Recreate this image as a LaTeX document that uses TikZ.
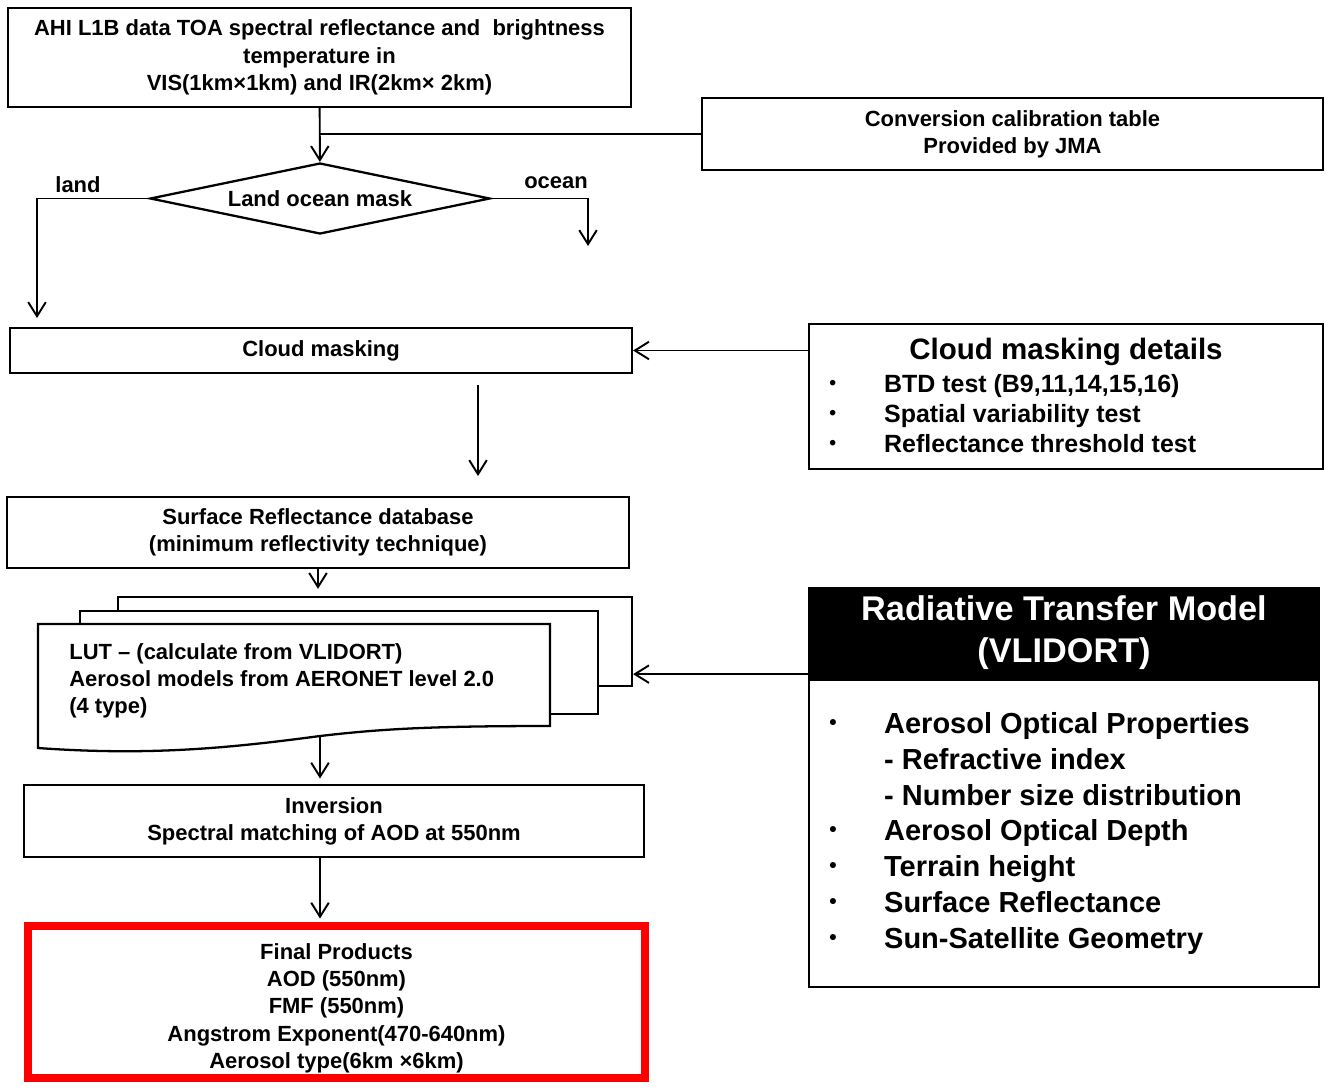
\documentclass[tikz,border=0pt]{standalone}
\usepackage{fontspec}
\setmainfont{Liberation Sans}
\usetikzlibrary{positioning,shapes.geometric,arrows.meta}
\newcommand{\rtmdot}{{\fontsize{12}{12}\selectfont\raisebox{2.5pt}{\textbullet}}}
\newcommand{\cmddot}{{\fontsize{11}{11}\selectfont\raisebox{1.5pt}{\textbullet}}}

\begin{document}
\begin{tikzpicture}[x=0.02cm,y=-0.02cm,
  box/.style={draw, line width=1.3pt, inner sep=0pt, align=center, font=\bfseries\fontsize{12.5}{15.5}\selectfont},
  lbl/.style={inner sep=0pt, font=\bfseries\fontsize{12.5}{15.5}\selectfont},
  ln/.style={line width=1.1pt},
  arr/.style={line width=1.1pt, -{Straight Barb[length=8pt,width=10pt,line width=1.1pt]}}]
\useasboundingbox (0,0) rectangle (1325,1086);
\node[box, minimum width=12.46cm, minimum height=1.98cm] (ahi) at (319.5,57.5) {AHI L1B data TOA spectral reflectance and \ brightness\\temperature in\\VIS(1km×1km) and IR(2km× 2km)};
\node[box, minimum width=12.42cm, minimum height=1.44cm] (conv) at (1012.5,134) {Conversion calibration table\\Provided by JMA};
\node[diamond, aspect=4.8, draw, line width=1.3pt, inner sep=0pt, minimum width=6.8cm, minimum height=1.42cm, font=\bfseries\fontsize{12.5}{15.5}\selectfont] (mask) at (320,198.5) {Land ocean mask};
\node[lbl] (landlbl) at (78,185) {land};
\node[lbl] (oceanlbl) at (556,183) {ocean};
\coordinate (landend) at (37,318);
\coordinate (oceanend) at (588,246);
\node[box, minimum width=12.44cm, minimum height=0.9cm] (cloud) at (321,350.5) {Cloud masking};
\node[draw, line width=1.3pt, minimum width=10.28cm, minimum height=2.9cm] (cmd) at (1066,396.5) {};
\node[lbl, font=\bfseries\fontsize{16.8}{20}\selectfont] (cmdtitle) at (1066,352) {Cloud masking details};
\node[lbl, anchor=north west, font=\bfseries\fontsize{14.2}{17}\selectfont] (cmdlist) at (829,371) {%
\begin{tabular}{@{}p{31.2pt}@{}l@{}}
\cmddot & BTD test (B9,11,14,15,16)\\
\cmddot & Spatial variability test\\
\cmddot & Reflectance threshold test
\end{tabular}};
\coordinate (cs) at (478,385);
\coordinate (ce) at (478,476);
\node[box, minimum width=12.44cm, minimum height=1.42cm] (surf) at (318,532.5) {Surface Reflectance database\\(minimum reflectivity technique)};
\node[draw, line width=1.3pt, fill=white, minimum width=10.28cm, minimum height=1.78cm] (lutback) at (375,641.5) {};
\node[draw, line width=1.3pt, fill=white, minimum width=10.36cm, minimum height=2.06cm] (lutmid) at (339,662.5) {};
\draw[line width=1.3pt, fill=white] (38,624) coordinate (lutnw) -- (550,624) -- (550,726)
  .. controls (430,726) and (380,729) .. (320,736) coordinate (lutbot)
  .. controls (230,748) and (150,756) .. (38,748) -- cycle;
\node[lbl, anchor=north west, align=left] (lut) at (69,643) {LUT – (calculate from VLIDORT)\\Aerosol models from AERONET level 2.0\\(4 type)};
\node[box, minimum width=12.4cm, minimum height=1.44cm] (inv) at (334,821) {Inversion\\Spectral matching of AOD at 550nm};
\node[box, draw=red, line width=4.5pt, minimum width=12.34cm, minimum height=3.04cm] (final) at (336.5,1002) {\rule{0pt}{16pt}Final Products\\AOD (550nm)\\FMF (550nm)\\Angstrom Exponent(470-640nm)\\Aerosol type(6km ×6km)};
\node[draw, line width=1.3pt, fill=black, text=white, align=center, inner sep=0pt, minimum width=10.2cm, minimum height=1.8cm, font=\bfseries\fontsize{19.5}{23.8}\selectfont] (rtmhead) at (1064,633) {Radiative Transfer Model\\(VLIDORT)};
\node[draw, line width=1.3pt, minimum width=10.2cm, minimum height=6.14cm, anchor=north] (rtmbody) at (rtmhead.south) {};
\node[lbl, anchor=north west, font=\bfseries\fontsize{16.5}{20.4}\selectfont] (rtmlist) at (829,708) {%
\begin{tabular}{@{}p{31.2pt}@{}l@{}}
\rtmdot & Aerosol Optical Properties\\
 & - Refractive index\\
 & - Number size distribution\\
\rtmdot & Aerosol Optical Depth\\
\rtmdot & Terrain height\\
\rtmdot & Surface Reflectance\\
\rtmdot & Sun-Satellite Geometry
\end{tabular}};
\draw[arr] (ahi) -- (mask);
\draw[ln] (conv.west) -- (conv.west -| ahi.south);
\draw[arr] (mask.west) -- (mask.west -| landend) -- (landend);
\draw[arr] (mask.east) -- (mask.east -| oceanend) -- (oceanend);
\draw[arr] (cloud.east -| cmd.west) -- (cloud.east);
\draw[arr] (cs) -- (ce);
\draw[arr, shorten >=4pt] (surf.south) -- (surf.south |- lutback.north);
\draw[arr] ([yshift=0.1cm]rtmhead.south west) coordinate (rtmin) -- (rtmin -| lutback.east);
\draw[arr, shorten >=3pt] (lutbot) -- (lutbot |- inv.north);
\draw[arr, shorten >=2pt] (inv.south -| lutbot) -- (lutbot |- final.north);
\end{tikzpicture}
\end{document}
